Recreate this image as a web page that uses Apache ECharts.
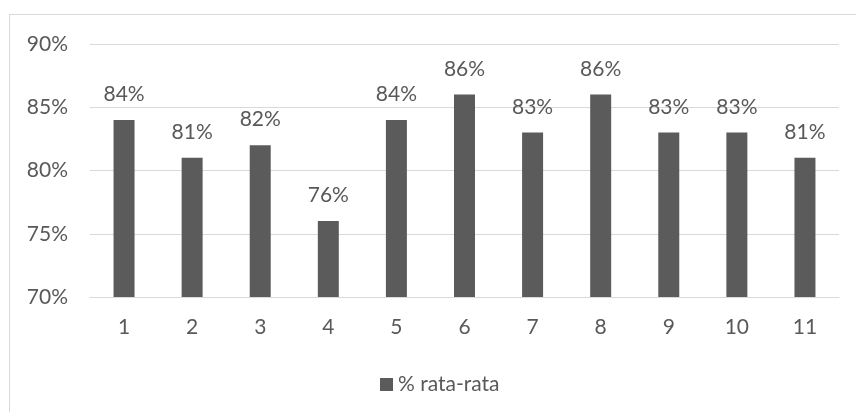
<!DOCTYPE html>
<html>
<head>
<meta charset="utf-8">
<script src="https://cdn.jsdelivr.net/npm/echarts@6/dist/echarts.min.js"></script>
<style>
  html, body { margin: 0; padding: 0; background: #fff; }
  #frame { position: absolute; left: 9px; top: 14px; width: 860px; height: 420px;
           border: 1px solid #d9d9d9; box-sizing: border-box; }
  #chart { position: absolute; left: 0; top: 0; width: 856px; height: 412px; }
</style>
</head>
<body>
<div id="frame"></div>
<div id="chart"></div>
<script>
// Categories and average percentage per group
const categories = ['1', '2', '3', '4', '5', '6', '7', '8', '9', '10', '11'];
const rataRata = [84, 81, 82, 76, 84, 86, 83, 86, 83, 83, 81];
const yTicks = { min: 70, max: 90, step: 5 };
const seriesName = '% rata-rata';

const textColor = '#595959';
const fontFamily = 'Lato, "Open Sans", sans-serif';
const fontSize = 21;

const chart = echarts.init(document.getElementById('chart'), null, { renderer: 'canvas' });
chart.setOption({
  animation: false,
  textStyle: { fontFamily: fontFamily },
  grid: { left: 90, right: 17, top: 44, bottom: 115, containLabel: false },
  legend: {
    data: [seriesName],
    top: 369,
    left: 375,
    itemWidth: 13,
    itemHeight: 13,
    itemGap: 6,
    icon: 'rect',
    textStyle: { color: textColor, fontSize: fontSize, fontFamily: fontFamily }
  },
  xAxis: {
    type: 'category',
    data: categories,
    axisLine: { show: true, lineStyle: { color: '#d9d9d9', width: 1 } },
    axisTick: { show: false },
    axisLabel: { color: textColor, fontSize: fontSize, margin: 20, fontFamily: fontFamily }
  },
  yAxis: {
    type: 'value',
    min: yTicks.min,
    max: yTicks.max,
    interval: yTicks.step,
    axisLine: { show: false },
    axisTick: { show: false },
    splitLine: { lineStyle: { color: '#d9d9d9', width: 1 } },
    axisLabel: { color: textColor, fontSize: fontSize, margin: 22, formatter: v => v + '%', fontFamily: fontFamily }
  },
  series: [{
    name: seriesName,
    type: 'bar',
    data: rataRata,
    barWidth: 21,
    itemStyle: { color: '#5b5b5b' },
    label: {
      show: true,
      position: 'top',
      distance: 15,
      color: textColor,
      fontSize: fontSize,
      fontFamily: fontFamily,
      formatter: p => p.value + '%'
    }
  }]
});
</script>
</body>
</html>
